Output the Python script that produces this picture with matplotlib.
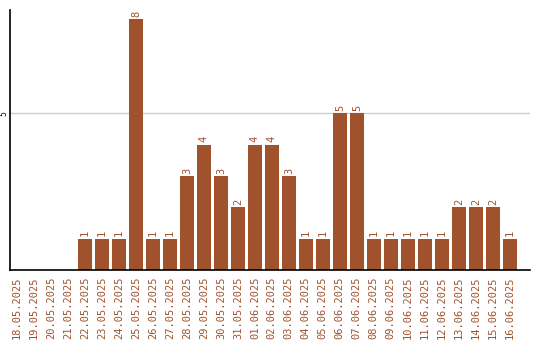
import matplotlib
matplotlib.use("Agg")
import matplotlib.pyplot as plt

dates = ["18.05.2025", "19.05.2025", "20.05.2025", "21.05.2025", "22.05.2025",
         "23.05.2025", "24.05.2025", "25.05.2025", "26.05.2025", "27.05.2025",
         "28.05.2025", "29.05.2025", "30.05.2025", "31.05.2025", "01.06.2025",
         "02.06.2025", "03.06.2025", "04.06.2025", "05.06.2025", "06.06.2025",
         "07.06.2025", "08.06.2025", "09.06.2025", "10.06.2025", "11.06.2025",
         "12.06.2025", "13.06.2025", "14.06.2025", "15.06.2025", "16.06.2025"]
counts = [0, 0, 0, 0, 1, 1, 1, 8, 1, 1, 3, 4, 3, 2, 4, 4, 3, 1, 1, 5, 5,
          1, 1, 1, 1, 1, 2, 2, 2, 1]

color = "#A0522D"
bar_w = 0.82

fig = plt.figure(figsize=(5.4, 3.4), dpi=100)
ax = fig.add_axes([10 / 540, 70 / 340, 520 / 540, 260 / 340])

x = list(range(len(dates)))
ax.bar(x, counts, width=bar_w, align="edge", color=color, zorder=2)

# value labels on top of bars
for i, v in enumerate(counts):
    if v > 0:
        ax.text(i + bar_w / 2, v + 0.08, str(v), rotation=90, ha="center",
                va="bottom", color=color, fontsize=7.5, family="DejaVu Sans Mono")

ax.set_xlim(0, 30.6)
ax.set_ylim(0, 8.3)

ax.set_xticks([i + bar_w / 2 for i in x])
ax.set_xticklabels(dates, rotation=90, color=color, fontsize=7.5,
                   family="DejaVu Sans Mono")
ax.tick_params(axis="x", length=0, pad=5)

ax.set_yticks([5])
ax.set_yticklabels(["5"], rotation=90, fontsize=5.5, va="center")
ax.tick_params(axis="y", length=0, pad=1)
ax.grid(axis="y", color="#cccccc", linewidth=1, zorder=0)

for s in ["top", "right"]:
    ax.spines[s].set_visible(False)
ax.spines["left"].set_linewidth(1.2)
ax.spines["bottom"].set_linewidth(1.2)

fig.savefig("out.png", dpi=100)
